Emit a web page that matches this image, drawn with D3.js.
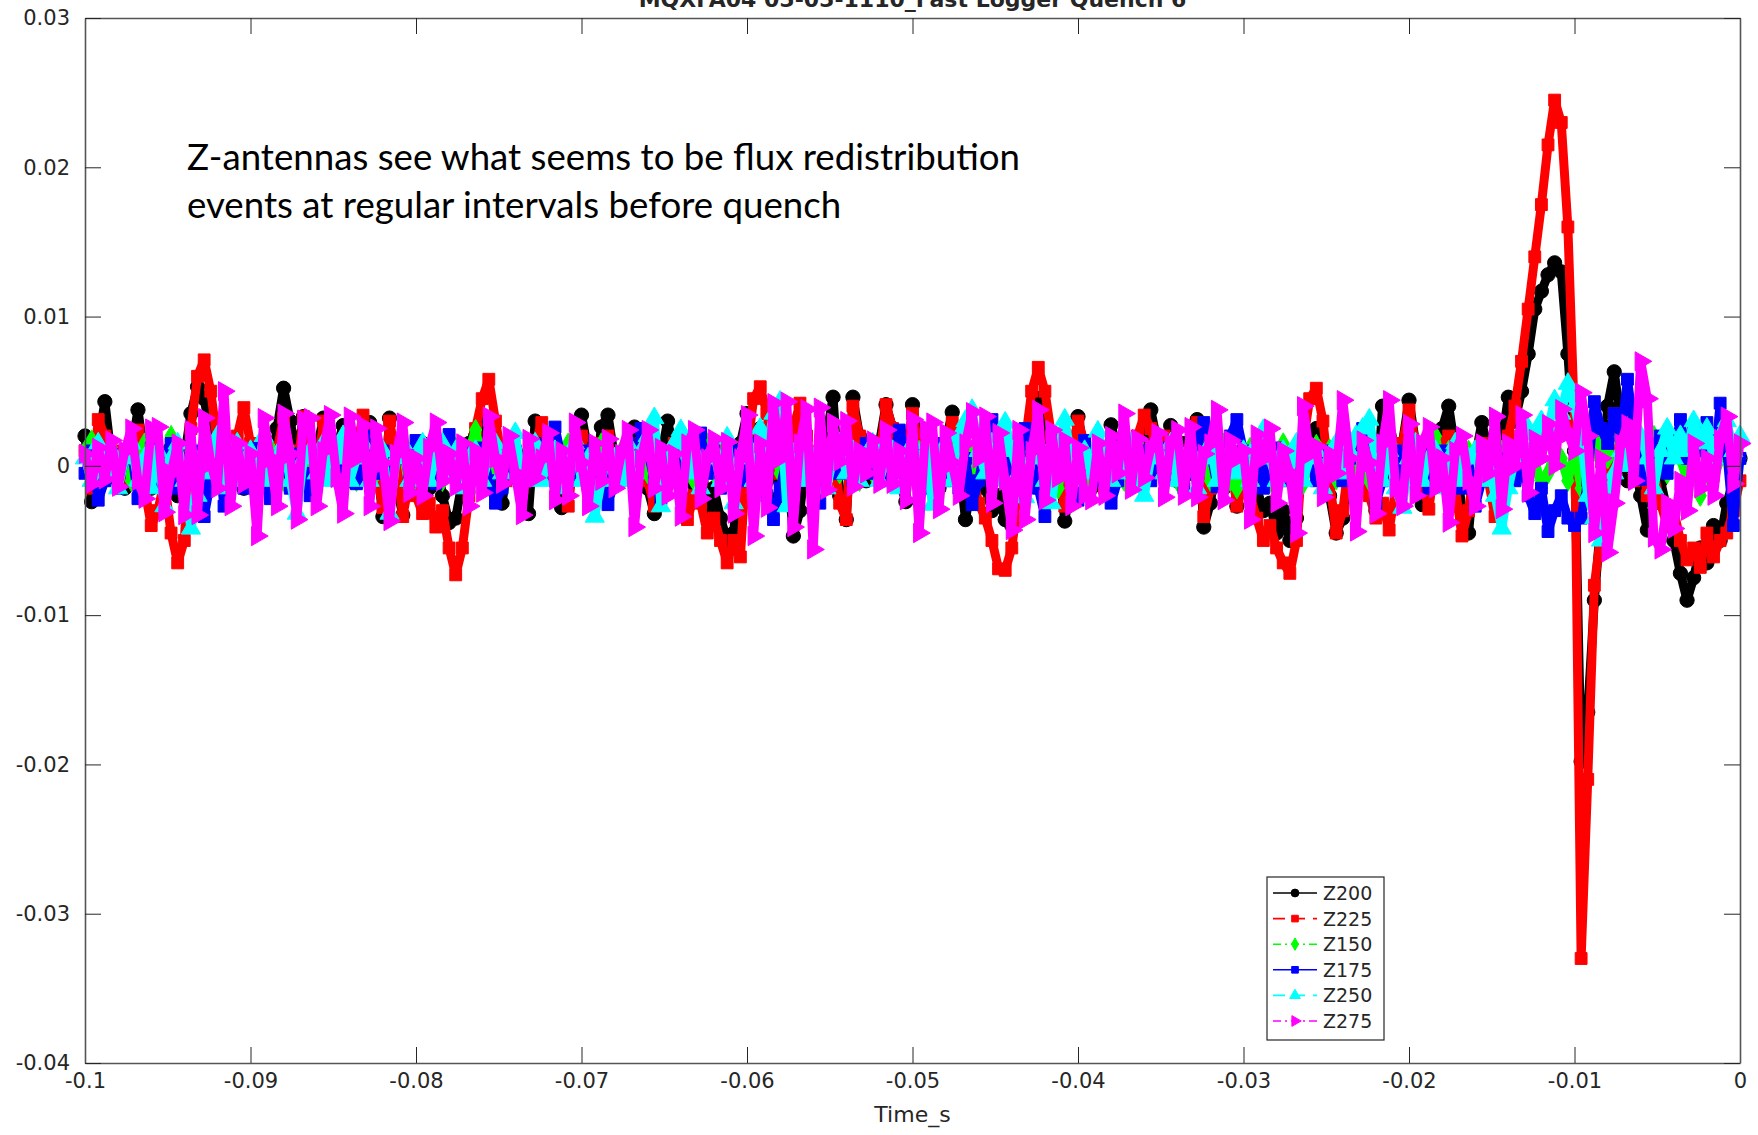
<!DOCTYPE html>
<html>
<head>
<meta charset="utf-8">
<script src="https://cdn.jsdelivr.net/npm/d3@7"></script>
<style>
  html, body { margin: 0; padding: 0; background: #ffffff; }
  svg { display: block; }
</style>
</head>
<body>
<svg id="chart" width="1758" height="1135"></svg>
<script>
// Fast logger record, last 100 ms before quench. Samples every 0.4 ms.
const T_START = -0.1;
const T_STEP = 0.0004;
// Antenna signals, stored in units of 1e-3.
const VALUE_UNIT = 1e-3;

const z200 = [
  2.0,-2.4,1.5,4.3,0.5, -1.0,-1.5,1.0,3.75,0.5, -1.5,1.0,-0.5,1.2,-2.0, 0.5,3.5,5.3,4.5,2.0, -1.0,1.5,-0.8,1.0,-1.5,
  0.8,-1.2,1.5,-0.5,2.5, 5.2,3.0,0.5,3.3,-0.8, 1.0,3.2,-0.5,1.2,2.7, -1.0,1.5,-0.5,2.9,0.5, -3.4,3.2,-1.2,-3.3,1.0,
  -0.5,1.5,-1.5,1.0,-2.0, -3.8,-3.5,-1.0,1.5,2.0, 3.0,1.5,-1.0,-2.5,0.5, 1.0,-1.5,-3.2,3.0,1.5, -0.5,1.0,-2.8,0.5,1.5,
  3.4,1.0,-1.5,2.6,3.4, 0.5,-1.0,1.5,2.6,0.0, -1.5,-3.2,0.5,3.0,1.0, -1.0,0.5,-2.0,1.0,-3.0, -1.5,-3.5,-5.0,-4.5,1.5,
  3.5,1.0,2.5,-1.0,1.5, -2.0,0.5,-4.7,-3.0,1.0, -1.5,1.0,2.0,4.6,-2.0, -3.6,4.6,2.0,-1.0,0.5, 1.5,4.1,2.5,-1.0,-2.4,
  4.1,1.5,-1.0,0.5,-1.5, 1.5,3.6,0.5,-3.6,-1.0, 1.0,-1.5,-3.0,-2.0,-3.6, -4.0,0.5,2.0,3.0,4.5, 1.0,-1.0,0.5,-3.7,-1.0,
  3.3,1.0,-1.5,0.5,-1.0, 2.75,1.0,-0.5,1.0,-1.2, 2.0,3.75,1.5,0.5,2.7, -1.0,1.5,-0.5,3.1,-4.1, -2.5,0.5,-1.5,1.0,-2.7,
  -1.0,1.0,-1.5,-3.0,-2.5, -4.5,-3.0,-5.0,-3.5,1.0, 0.5,2.5,-1.0,-2.0,-4.5, -3.5,0.5,-1.0,1.5,-1.5, -3.0,4.0,2.0,-1.0,1.5,
  4.4,1.5,-2.6,0.5,1.0, 2.5,4.0,1.0,-3.0,-4.5, 0.5,2.9,1.0,-1.5,1.5, 4.6,3.0,5.0,7.5,10.5, 11.7,12.8,13.6,13.0,7.5,
  1.0,-19.8,-16.5,-9.0,-3.5, 4.0,6.3,3.0,-1.0,0.5, -2.0,-4.3,-2.5,-1.0,-3.0, -5.0,-7.2,-9.0,-7.5,-5.5, -6.5,-4.0,-5.0,-2.5,-1.0,
  0.5
];

const z225 = [
  1.0,-1.5,3.1,2.0,-0.5, 1.0,-1.0,0.5,2.4,-1.5, -4.0,-3.0,-1.0,-4.5,-6.5, -5.0,2.5,6.0,7.1,5.0, 1.5,-1.0,0.5,2.0,3.9,
  1.5,-1.0,0.5,-1.5,1.0, 3.2,1.0,-0.5,3.3,1.0, -1.0,3.0,0.5,-0.5,1.5, -1.0,1.0,3.4,1.5,-0.5, -2.8,3.0,0.5,-3.4,-1.0,
  -2.0,-3.2,-2.5,-4.1,-3.0, -5.5,-7.3,-5.5,-2.0,2.5, 4.5,5.8,3.0,0.5,-1.0, 1.0,-1.5,0.5,1.5,2.9, 1.0,-1.0,0.5,-2.7,1.0,
  2.0,-0.5,1.0,1.5,2.0, -1.0,0.5,1.0,-0.5,1.5, -1.0,-2.7,-1.5,0.5,1.5, -1.0,-3.6,-2.0,-2.5,-4.5, -3.5,-5.0,-6.5,-5.0,-6.1,
  1.0,4.5,5.3,3.5,1.0, -0.5,1.0,2.5,4.2,2.0, -0.5,1.0,-1.5,1.5,-2.5, -3.6,4.0,2.0,-0.5,1.5, 0.5,4.1,2.5,-0.5,1.0,
  3.5,1.0,-1.0,0.5,1.5, -0.5,2.9,1.0,-1.5,-0.5, -2.5,-3.5,-5.0,-6.9,-7.0, -5.5,-2.0,1.5,5.0,6.6, 5.0,2.0,-0.5,-2.7,1.0,
  3.0,1.5,-1.0,0.5,-1.5, 1.0,0.0,-1.0,1.0,2.0, 3.4,2.5,1.0,2.0,1.5, -0.5,1.0,0.5,2.9,-3.4, -1.5,0.5,-1.0,1.0,-2.7,
  -1.0,-2.0,-3.5,-5.0,-4.0, -5.5,-6.5,-7.2,-5.0,1.5, 4.5,5.2,3.0,-1.0,-4.5, -3.0,0.5,-1.0,1.0,-2.0, -3.5,-2.5,-4.3,-1.5,1.5,
  3.75,1.5,-1.0,-2.9,0.5, 1.5,2.0,-1.5,-4.7,-3.0, 0.5,1.5,-1.0,-3.4,0.5, 2.0,4.0,7.0,10.5,14.0, 17.5,21.5,24.5,23.0,16.0,
  3.0,-33.0,-21.0,-8.0,-4.5, -1.0,3.5,0.5,2.0,-1.0, 1.0,-2.0,-0.5,-2.5,-4.0, -3.0,-5.0,-6.3,-5.5,-6.8, -4.5,-6.1,-5.0,-4.5,-3.0,
  -1.0
];

const z150 = [
  1.0,1.7,-1.0,0.5,1.2, -0.5,1.0,-1.0,0.5,1.5, -0.5,1.0,-1.0,2.0,0.5, -1.0,1.0,-0.5,1.5,0.5, -1.0,1.0,-0.5,1.2,0.5,
  -1.0,1.0,-0.5,1.2,0.5, -1.0,1.0,0.5,-0.5,1.0, -1.0,0.5,1.5,-0.5,2.0, 0.5,-1.0,1.0,0.5,-0.5, 1.0,-1.0,0.5,1.0,-1.5,
  0.5,1.0,-0.5,1.0,-1.0, 0.5,1.2,-0.5,1.0,2.4, 0.5,-1.0,1.0,-0.5,0.5, 1.2,-1.0,0.5,1.0,-0.5, 1.0,-1.0,0.5,1.5,-0.5,
  1.0,-1.0,0.5,1.5,0.5, -1.0,1.0,-0.5,0.5,1.2, -0.5,1.0,-1.0,0.5,1.0, -0.5,1.0,-1.0,0.5,1.5, -0.5,1.0,-1.0,0.5,1.0,
  -0.5,1.0,-1.0,0.5,1.5, -0.5,1.0,-1.0,0.5,1.0, -1.0,-1.6,0.5,1.0,-0.5, 1.0,0.5,-1.0,1.0,-0.5, 0.5,1.5,-0.5,1.0,-1.0,
  0.5,1.0,-0.5,1.0,-1.0, 0.5,1.5,1.8,-0.5,1.0, -1.0,0.5,1.0,-0.5,1.0, -1.0,0.5,1.2,-0.5,1.0, -1.0,0.5,-1.5,1.0,0.5,
  -0.5,1.0,-1.0,0.5,1.0, -0.5,1.0,-1.0,0.5,1.5, -0.5,1.0,1.1,-0.5,1.0, -1.0,0.5,1.0,-0.5,1.0, -1.0,0.5,1.5,-1.0,-1.5,
  0.5,1.2,-0.3,0.8,-1.1, 0.4,1.5,-0.6,0.9,-1.2, 0.3,1.4,-0.4,1.1,-0.9, 0.6,1.0,-0.7,1.2,-1.0, 0.2,1.6,-0.5,0.9,-1.3,
  0.5,1.0,-0.5,1.0,2.0, -0.5,1.0,-1.0,0.5,1.0, -1.5,0.5,1.0,-0.5,1.0, -1.0,0.5,1.5,-1.0,0.5, -1.5,-0.5,1.0,0.5,-1.0,
  1.0,-1.5,0.5,1.0,2.0, 0.5,3.1,1.0,2.0,-0.5, 1.0,0.5,2.0,1.0,-0.5, 1.0,0.5,-1.0,0.5,-2.0, 0.5,-1.0,0.5,1.0,-1.0,
  0.5
];

const z175 = [
  -0.5,1.0,-2.3,-1.0,0.8, -1.5,0.5,1.0,-2.2,-0.5, 1.2,-1.0,0.5,1.5,-1.5, 0.5,-1.0,1.0,-3.4,-1.0, 1.2,-2.7,0.5,1.0,-1.5,
  0.5,1.2,-1.0,-2.2,0.5, 1.0,-1.5,0.8,-0.5,-2.0, 1.0,-0.5,1.2,-1.0,0.5, 1.5,-1.2,0.5,2.0,-0.5, 1.0,-1.5,0.5,1.2,-1.0,
  1.7,-0.5,1.0,-1.2,1.5, 2.1,-0.5,1.0,-1.5,0.5, 1.2,-1.0,-2.5,-1.5,0.5, 1.0,-1.0,0.5,1.5,-0.5, 1.0,2.6,0.5,-1.0,1.0,
  -0.5,1.0,-1.5,0.5,-2.6, -1.0,0.5,1.5,-0.5,2.5, 1.0,-1.0,-2.2,0.5,1.0, -1.0,0.5,1.5,2.2,-0.5, 1.0,-1.5,0.5,1.0,-1.0,
  0.5,1.5,-1.0,-2.0,-3.6, -1.5,0.5,1.0,-1.0,0.5, -1.5,-2.5,0.5,1.0,-0.5, 1.2,-1.0,0.5,1.5,-0.5, 1.0,-1.0,0.5,2.4,1.0,
  -0.5,1.0,-1.5,0.5,1.5, -1.0,0.5,-1.5,0.5,-2.6, -1.0,1.5,3.1,2.0,0.5, -1.0,1.0,2.5,0.5,-1.5, -3.4,-1.0,0.5,1.0,-1.0,
  -2.3,1.7,0.5,-1.0,1.0, -2.5,-1.0,0.5,1.5,-0.5, 1.0,-1.0,0.5,1.2,-0.5, 1.0,-1.5,0.5,1.5,2.9, 1.0,-1.4,0.5,2.0,3.1,
  1.0,-0.5,1.0,-1.5,0.5, 1.2,-1.0,0.5,-1.5,1.0, 0.5,-1.0,1.0,-0.5,1.2, -1.0,0.5,1.5,2.5,0.5, -2.5,-1.0,0.5,1.0,-1.0,
  1.2,-0.5,1.0,-1.5,0.5, 1.0,-1.0,0.5,-1.5,0.5, -2.7,-1.0,0.5,1.0,-1.5, 0.5,-1.0,0.5,-2.0,-3.2, -1.5,-4.4,-3.0,-2.0,-3.5,
  -4.0,-3.5,-1.0,4.3,2.5, 1.5,3.5,2.0,5.8,2.5, -0.9,1.5,0.5,2.0,-0.5, 1.0,3.1,0.5,2.5,1.0, 2.9,-0.5,4.2,1.0,-4.0,
  0.5
];

const z250 = [
  0.5,-1.0,1.5,-0.5,1.0, -1.5,0.5,1.5,-1.0,0.5, -1.5,1.0,-2.7,0.5,1.5, -1.0,-4.2,-2.0,1.0,-0.5, 2.0,-1.5,0.5,1.5,-1.0,
  1.0,-0.5,2.0,-1.0,0.5, 1.5,-1.0,-3.2,0.5,1.0, -0.5,1.5,-1.0,0.5,2.0, -1.0,0.5,1.5,-1.0,0.5, 1.0,-3.2,0.5,1.5,-1.0,
  0.5,1.5,-1.0,0.5,1.5, -0.5,1.0,-1.5,0.5,1.0, -1.0,0.5,1.5,-0.5,1.0, 2.2,-1.0,0.5,1.5,-1.0, 0.5,1.0,-1.5,0.5,1.5,
  -1.0,0.5,-3.4,-1.0,1.0, 0.5,-1.0,1.5,-0.5,1.0, 2.0,3.2,-2.7,0.5,1.5, 2.4,-0.5,1.0,-1.5,0.5, 1.0,-1.0,1.9,-2.5,0.5,
  1.5,-1.0,2.5,1.0,3.5, 4.3,-2.7,0.5,1.5,-1.0, 0.5,1.0,-1.5,0.5,1.5, -0.5,1.0,-1.0,0.5,1.5, -1.0,0.5,1.0,-1.5,0.5,
  1.5,-0.5,1.0,-2.6,0.5, 1.5,-1.0,2.0,3.0,3.75, 1.0,-0.5,1.5,-1.0,2.9, 1.0,-0.5,-2.1,0.5,1.5, -1.0,-2.5,1.0,3.1,0.5,
  -1.0,1.0,-0.5,2.3,0.5, -1.0,1.0,-0.5,1.5,-1.0, -2.0,0.5,1.0,-0.5,1.5, -1.0,0.5,1.0,-1.5,0.5, 1.5,-1.0,0.5,1.0,-0.5,
  1.0,-1.0,1.5,2.4,0.5, -1.0,1.0,-0.5,1.5,-1.0, 0.5,1.0,-1.5,0.5,1.5, -0.5,1.0,2.0,2.5,3.1, 0.5,-1.0,1.0,-1.5,-2.8,
  0.5,1.5,-1.0,0.5,1.0, -1.5,0.5,1.5,-1.0,0.5, 1.0,-1.0,0.5,-2.0,-4.2, -1.5,0.5,1.5,2.5,1.5, 3.0,2.5,4.4,3.5,5.5,
  4.0,2.0,-2.0,-3.5,-5.0, -2.0,-0.5,1.0,0.0,1.5, 2.0,0.5,-1.5,1.0,2.5, 0.5,2.0,1.0,3.0,1.5, 2.5,0.5,2.0,3.0,1.0,
  2.0
];

const z275 = [
  0.8,-1.2,1.2,-0.9,1.7, -1.4,1.0,2.5,-1.0,-2.2, 2.5,2.6,-3.1,-0.5,1.5, -3.3,2.4,-3.3,3.2,0.2, -1.5,5.0,-2.7,1.5,-1.2,
  0.8,-4.7,3.2,0.5,-2.7, 3.5,0.8,-3.6,3.1,3.2, -2.7,1.0,3.4,-0.8,-3.2, 3.3,0.5,2.7,-2.7,2.5, 0.2,-3.7,0.8,2.9,-1.8,
  0.5,-2.0,1.2,2.9,-1.0, 0.8,-1.4,1.5,-2.7,1.0, -1.8,3.3,0.5,-1.2,2.0, -0.5,-3.3,1.8,-0.8,0.5, 2.2,-2.3,1.0,-2.0,2.9,
  0.2,-2.7,1.5,-1.0,1.8, -1.5,0.8,2.4,-4.1,0.5, 2.4,-1.5,1.2,-2.0,0.8, -3.4,1.5,2.4,-2.2,0.5, 1.8,-1.5,1.6,-3.2,0.5,
  3.4,-4.7,1.5,-2.8,4.2, 0.5,4.3,-4.1,1.5,3.8, -5.6,3.9,-1.6,2.9,0.3, 3.0,-1.4,1.0,-0.5,1.7, -1.2,2.4,-1.2,1.0,-2.3,
  3.1,-4.5,2.5,2.9,-2.9, 2.2,0.2,-2.0,1.5,3.6, 0.5,3.3,-2.5,2.2,-1.0, -4.3,2.4,-3.6,1.0,3.75, -2.3,2.4,-0.8,1.7,-2.7,
  1.2,-2.0,-2.3,1.5,-2.0, 2.0,-0.5,3.5,-1.6,1.8, -0.8,1.2,2.2,-2.1,1.5, 2.4,-2.0,2.6,-2.1,0.8, 1.5,3.75,-2.3,1.7,0.5,
  1.0,-3.6,2.1,0.5,2.5, -2.5,1.0,-0.5,-4.5,4.0, 0.8,1.3,-2.1,0.8,-0.5, 4.4,0.5,-4.4,1.7,0.2, -3.2,1.5,4.4,-1.5,-2.7,
  2.8,-2.0,1.5,2.6,-1.5, 0.5,-3.8,1.0,2.0,-1.0, -2.7,1.5,-0.5,3.3,-2.9, 1.5,0.0,3.4,-1.8,1.8, 0.5,2.8,0.0,3.8,2.2,
  1.0,4.9,2.0,-4.5,0.5, -5.8,-2.5,1.5,2.8,-1.0, 7.0,4.5,-4.8,-5.6,-2.5, -4.2,-1.0,-3.0,1.5,-1.5, 0.5,-2.0,1.8,3.3,-1.2,
  1.5
];

const seriesNames = ["Z200", "Z225", "Z150", "Z175", "Z250", "Z275"];
const seriesValues = [z200, z225, z150, z175, z250, z275];

const xTickValues = [-0.1, -0.09, -0.08, -0.07, -0.06, -0.05, -0.04, -0.03, -0.02, -0.01, 0];
const xTickLabels = ["-0.1", "-0.09", "-0.08", "-0.07", "-0.06", "-0.05", "-0.04", "-0.03", "-0.02", "-0.01", "0"];
const yTickValues = [0.03, 0.02, 0.01, 0, -0.01, -0.02, -0.03, -0.04];
const yTickLabels = ["0.03", "0.02", "0.01", "0", "-0.01", "-0.02", "-0.03", "-0.04"];

const titleText = "MQXFA04 05-05-1110_Fast Logger Quench 6";
const xLabelText = "Time_s";
const noteLines = [
  "Z-antennas see what seems to be flux redistribution",
  "events at regular intervals before quench"
];

// ---- styling ----
// The traces are so dense that their dash patterns close up; only the legend shows them.
const styles = [
  { color: "#000000", legDash: null,      symbol: d3.symbolCircle,   size: 160, legSize: 48, rotate: 0 },
  { color: "#ff0000", legDash: "12,8",    symbol: d3.symbolSquare,   size: 140, legSize: 44, rotate: 0 },
  { color: "#00ff00", legDash: "8,4,2,4", symbol: d3.symbolDiamond,  size: 130, legSize: 44, rotate: 0 },
  { color: "#0000ff", legDash: null,      symbol: d3.symbolSquare,   size: 140, legSize: 44, rotate: 0 },
  { color: "#00ffff", legDash: "12,8",    symbol: d3.symbolTriangle, size: 160, legSize: 50, rotate: 0 },
  { color: "#ff00ff", legDash: "8,4,2,4", symbol: d3.symbolTriangle, size: 160, legSize: 50, rotate: 90 }
];
const lineWidth = 9;

const W = 1758, H = 1135;
const box = { left: 85, right: 1740, top: 18, bottom: 1063 };
const axisColor = "#262626";
const tickFont = "'DejaVu Sans', sans-serif";

const svg = d3.select("#chart");
svg.append("rect").attr("width", W).attr("height", H).attr("fill", "#ffffff");

const x = d3.scaleLinear().domain([-0.1, 0]).range([box.left, box.right]);
const y = d3.scaleLinear().domain([-0.04, 0.03]).range([box.bottom, box.top]);

const timeOf = i => T_START + i * T_STEP;

// ---- data ----
const gData = svg.append("g").attr("class", "data");
seriesValues.forEach((vals, k) => {
  const st = styles[k];
  const pts = vals.map((v, i) => [x(timeOf(i)), y(v * VALUE_UNIT)]);
  const g = gData.append("g").attr("class", "series-" + seriesNames[k]);
  g.append("path")
    .attr("d", d3.line()(pts))
    .attr("fill", "none")
    .attr("stroke", st.color)
    .attr("stroke-width", lineWidth)
    .attr("stroke-linejoin", "round");
  const sym = d3.symbol().type(st.symbol).size(st.size);
  g.selectAll("path.m")
    .data(pts)
    .join("path")
    .attr("class", "m")
    .attr("d", sym)
    .attr("transform", d => `translate(${d[0]},${d[1]}) rotate(${st.rotate})`)
    .attr("fill", st.color)
    .attr("stroke", st.color)
    .attr("stroke-width", 1);
});

// ---- axes (box with inward ticks) ----
function styleAxis(g) {
  g.select(".domain").attr("stroke", "#555555").attr("stroke-width", 1.6);
  g.selectAll(".tick line").attr("stroke", axisColor).attr("stroke-width", 1);
  g.selectAll(".tick text")
    .attr("fill", axisColor)
    .style("font-family", tickFont)
    .style("font-size", "21px");
}

svg.append("g")
  .attr("transform", `translate(0,${box.bottom})`)
  .call(d3.axisBottom(x).tickValues(xTickValues)
    .tickFormat((d, i) => xTickLabels[i]).tickSizeInner(-16).tickSizeOuter(0).tickPadding(10))
  .call(styleAxis);

svg.append("g")
  .attr("transform", `translate(0,${box.top})`)
  .call(d3.axisTop(x).tickValues(xTickValues)
    .tickFormat("").tickSizeInner(-16).tickSizeOuter(0))
  .call(styleAxis);

svg.append("g")
  .attr("transform", `translate(${box.left},0)`)
  .call(d3.axisLeft(y).tickValues(yTickValues)
    .tickFormat((d, i) => yTickLabels[i]).tickSizeInner(-16).tickSizeOuter(0).tickPadding(15))
  .call(styleAxis);

svg.append("g")
  .attr("transform", `translate(${box.right},0)`)
  .call(d3.axisRight(y).tickValues(yTickValues)
    .tickFormat("").tickSizeInner(-16).tickSizeOuter(0))
  .call(styleAxis);

// ---- title (runs off the top edge of the figure) and axis label ----
svg.append("text")
  .attr("x", (box.left + box.right) / 2)
  .attr("y", 7)
  .attr("text-anchor", "middle")
  .attr("fill", axisColor)
  .style("font-family", tickFont)
  .style("font-weight", "bold")
  .style("font-size", "22px")
  .text(titleText);

svg.append("text")
  .attr("x", (box.left + box.right) / 2)
  .attr("y", 1122)
  .attr("text-anchor", "middle")
  .attr("fill", axisColor)
  .style("font-family", tickFont)
  .style("font-size", "22px")
  .text(xLabelText);

// ---- annotation ----
const note = svg.append("g").attr("class", "note");
const noteSize = 35;
noteLines.forEach((line, i) => {
  note.append("text")
    .attr("x", 187)
    .attr("y", 170 + i * 48)
    .attr("fill", "#000000")
    .style("font-family", "Lato, 'Open Sans', sans-serif")
    .style("font-size", noteSize + "px")
    .text(line);
});
// fit the first line to its intended width
const firstW = note.select("text").node().getComputedTextLength();
const fitted = noteSize * 833 / firstW;
note.selectAll("text").style("font-size", fitted.toFixed(2) + "px");

// ---- legend ----
const leg = svg.append("g").attr("class", "legend");
const lg = { x: 1267, y: 877, w: 117, h: 163, row: 25.6, first: 16 };
leg.append("rect")
  .attr("x", lg.x).attr("y", lg.y).attr("width", lg.w).attr("height", lg.h)
  .attr("fill", "#ffffff").attr("stroke", axisColor).attr("stroke-width", 1.2);
seriesNames.forEach((name, k) => {
  const st = styles[k];
  const cy = lg.y + lg.first + k * lg.row;
  leg.append("line")
    .attr("x1", lg.x + 6).attr("x2", lg.x + 50)
    .attr("y1", cy).attr("y2", cy)
    .attr("stroke", st.color).attr("stroke-width", 1.6)
    .attr("stroke-dasharray", st.legDash);
  leg.append("path")
    .attr("d", d3.symbol().type(st.symbol).size(st.legSize)())
    .attr("transform", `translate(${lg.x + 28},${cy}) rotate(${st.rotate})`)
    .attr("fill", st.color).attr("stroke", st.color).attr("stroke-width", 1);
  leg.append("text")
    .attr("x", lg.x + 56).attr("y", cy + 7)
    .attr("fill", axisColor)
    .style("font-family", tickFont)
    .style("font-size", "19px")
    .text(name);
});
</script>
</body>
</html>
